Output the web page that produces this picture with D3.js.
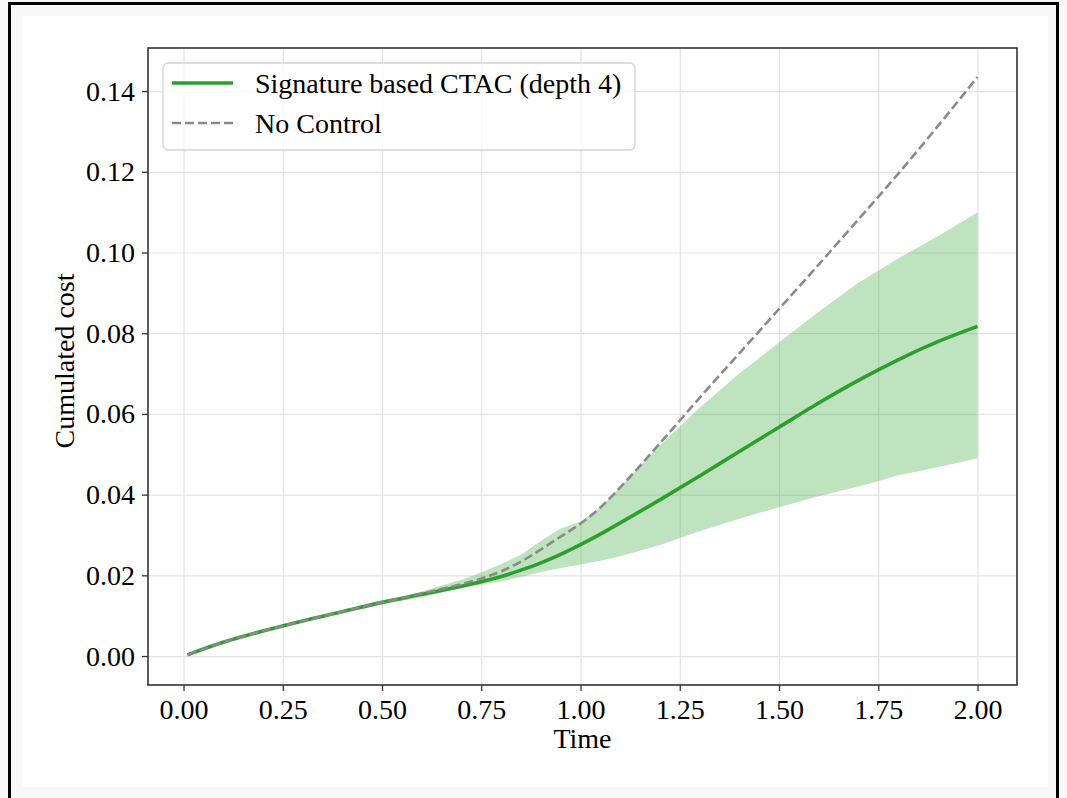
<!DOCTYPE html>
<html lang="en">
<head>
<meta charset="UTF-8">
<title>Cumulated cost</title>
<script src="https://d3js.org/d3.v7.min.js"></script>
<style>
  body { margin: 0; background: #f8f8f8; }
  svg { display: block; }
  text { font-family: "Liberation Serif", "Times New Roman", serif; fill: #000; }
</style>
</head>
<body>
<svg id="chart" width="1067" height="798"></svg>
<script>
// data
const times = [0.01, 0.1, 0.2, 0.3, 0.4, 0.5, 0.6, 0.7, 0.75, 0.8, 0.85, 0.9, 0.95, 1.0,
  1.05, 1.1, 1.2, 1.3, 1.4, 1.5, 1.6, 1.7, 1.75, 1.8, 1.9, 2.0];
const ctacMean = [0.0003, 0.0034, 0.0062, 0.0087, 0.0110, 0.0133, 0.0153, 0.0173, 0.0184, 0.0197,
  0.0213, 0.0231, 0.0252, 0.0276, 0.0302, 0.0330, 0.0387, 0.0446, 0.0507, 0.0567, 0.0627,
  0.0683, 0.0709, 0.0734, 0.0779, 0.0817];
const ctacUpper = [0.0003, 0.0035, 0.0063, 0.0088, 0.0112, 0.0135, 0.0160, 0.0189, 0.0207, 0.0228,
  0.0251, 0.0285, 0.0316, 0.0333, 0.0369, 0.0419, 0.0522, 0.0615, 0.0700, 0.0777, 0.0853,
  0.0925, 0.0955, 0.0985, 0.1040, 0.1099];
const ctacLower = [0.0003, 0.0033, 0.0061, 0.0086, 0.0108, 0.0128, 0.0146, 0.0168, 0.0177, 0.0185,
  0.0196, 0.0208, 0.0218, 0.0227, 0.0236, 0.0247, 0.0275, 0.0309, 0.0340, 0.0369, 0.0396,
  0.0420, 0.0433, 0.0448, 0.0468, 0.0490];
const noControl = [0.0003, 0.0034, 0.0062, 0.0087, 0.0110, 0.0133, 0.0155, 0.0178, 0.0192, 0.0210,
  0.0234, 0.0264, 0.0296, 0.0328, 0.0368, 0.0418, 0.0527, 0.0640, 0.0750, 0.0860, 0.0970,
  0.1082, 0.1138, 0.1195, 0.1313, 0.1435];
const xTicks = [0, 0.25, 0.5, 0.75, 1.0, 1.25, 1.5, 1.75, 2.0];
const yTicks = [0, 0.02, 0.04, 0.06, 0.08, 0.10, 0.12, 0.14];
const seriesNames = ["Signature based CTAC (depth 4)", "No Control"];

const svg = d3.select("#chart");
const W = 1067, H = 798;
const plot = { left: 148, right: 1017, top: 48, bottom: 685 };
const fs = 28;

// frame around the figure
svg.append("rect").attr("width", W).attr("height", H).attr("fill", "#f8f8f8");
svg.append("path")
  .attr("d", `M9.5,${H} V3.5 H1057.5 V${H}`)
  .attr("fill", "none").attr("stroke", "#000").attr("stroke-width", 3);
svg.append("rect").attr("x", 22).attr("y", 16).attr("width", 1026).attr("height", 771)
  .attr("fill", "#fff");

// matplotlib style 5% margins
const xPad = (d3.max(times) - d3.min(times)) * 0.05;
const yMax = d3.max(noControl), yMin = 0;
const yPad = (yMax - yMin) * 0.05;

const x = d3.scaleLinear()
  .domain([d3.min(times) - xPad, d3.max(times) + xPad])
  .range([plot.left, plot.right]);
const y = d3.scaleLinear()
  .domain([yMin - yPad, yMax + yPad])
  .range([plot.bottom, plot.top]);

// grid
svg.append("g")
  .attr("transform", `translate(0,${plot.bottom})`)
  .call(d3.axisBottom(x).tickValues(xTicks).tickSize(-(plot.bottom - plot.top)).tickFormat(""))
  .call(g => g.select(".domain").remove())
  .call(g => g.selectAll("line").attr("stroke", "#e3e3e3").attr("stroke-width", 1.2));
svg.append("g")
  .attr("transform", `translate(${plot.left},0)`)
  .call(d3.axisLeft(y).tickValues(yTicks).tickSize(-(plot.right - plot.left)).tickFormat(""))
  .call(g => g.select(".domain").remove())
  .call(g => g.selectAll("line").attr("stroke", "#e3e3e3").attr("stroke-width", 1.2));

const data = times.map((t, i) => ({ t, m: ctacMean[i], lo: ctacLower[i], hi: ctacUpper[i], nc: noControl[i] }));

// band
svg.append("path")
  .datum(data)
  .attr("fill", "#2ca02c").attr("fill-opacity", 0.3)
  .attr("d", d3.area().x(d => x(d.t)).y0(d => y(d.lo)).y1(d => y(d.hi)));

svg.append("path")
  .datum(data)
  .attr("fill", "none").attr("stroke", "#2ca02c").attr("stroke-width", 3.6)
  .attr("d", d3.line().x(d => x(d.t)).y(d => y(d.m)).curve(d3.curveMonotoneX));

svg.append("path")
  .datum(data)
  .attr("fill", "none").attr("stroke", "#8a8a8a").attr("stroke-width", 2.6)
  .attr("stroke-dasharray", "9,4")
  .attr("d", d3.line().x(d => x(d.t)).y(d => y(d.nc)).curve(d3.curveMonotoneX));

// axes
const xAxis = svg.append("g")
  .attr("transform", `translate(0,${plot.bottom})`)
  .call(d3.axisBottom(x).tickValues(xTicks).tickSize(6).tickPadding(8).tickFormat(d3.format(".2f")));
const yAxis = svg.append("g")
  .attr("transform", `translate(${plot.left},0)`)
  .call(d3.axisLeft(y).tickValues(yTicks).tickSize(6).tickPadding(7).tickFormat(d3.format(".2f")));
[xAxis, yAxis].forEach(g => {
  g.select(".domain").remove();
  g.selectAll("line").attr("stroke", "#333").attr("stroke-width", 1.3);
  g.selectAll("text").attr("font-size", fs)
    .attr("font-family", "'Liberation Serif', serif").attr("fill", "#000");
});
xAxis.selectAll("text").attr("dy", "0.7em");

svg.append("rect")
  .attr("x", plot.left).attr("y", plot.top)
  .attr("width", plot.right - plot.left).attr("height", plot.bottom - plot.top)
  .attr("fill", "none").attr("stroke", "#333").attr("stroke-width", 1.6);

// labels
svg.append("text")
  .attr("x", (plot.left + plot.right) / 2).attr("y", 748)
  .attr("text-anchor", "middle").attr("font-size", fs).text("Time");
svg.append("text")
  .attr("transform", `translate(74,361) rotate(-90)`)
  .attr("text-anchor", "middle").attr("font-size", fs).text("Cumulated cost");

// legend
const lg = svg.append("g");
lg.append("rect")
  .attr("x", 163).attr("y", 63).attr("width", 472).attr("height", 87).attr("rx", 5)
  .attr("fill", "#fff").attr("fill-opacity", 0.8)
  .attr("stroke", "#d4d4d4").attr("stroke-width", 1.3);
const legendRows = [
  { name: seriesNames[0], color: "#2ca02c", width: 3.6, dash: null },
  { name: seriesNames[1], color: "#8a8a8a", width: 2.6, dash: "9,4" }
];
legendRows.forEach((r, i) => {
  const ly = 83 + i * 40;
  lg.append("line")
    .attr("x1", 172).attr("x2", 233).attr("y1", ly).attr("y2", ly)
    .attr("stroke", r.color).attr("stroke-width", r.width)
    .attr("stroke-dasharray", r.dash);
  lg.append("text")
    .attr("x", 255).attr("y", ly + 10)
    .attr("font-size", fs).text(r.name);
});
</script>
</body>
</html>
